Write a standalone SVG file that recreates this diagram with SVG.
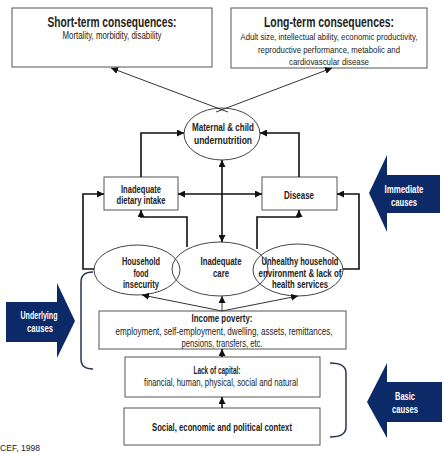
<svg xmlns="http://www.w3.org/2000/svg" width="444" height="453" viewBox="0 0 444 453">
<style>
.box{fill:#fff;stroke:#555;stroke-width:1}
.ell{fill:none;stroke:#444;stroke-width:1}
.t{font-family:"Liberation Sans Narrow","Liberation Sans",Arial,sans-serif;fill:#222;text-anchor:middle}
.b{font-weight:bold}
.w{fill:#fff;font-weight:bold}
.c{fill:none;stroke:#111;stroke-width:1.6}
.thin{fill:none;stroke:#333;stroke-width:1}
.blue{fill:#0c2a68}
.br{fill:none;stroke:#2a3550;stroke-width:1.5}
</style>
<defs>
<marker id="ah" viewBox="0 0 10 10" refX="10" refY="5" markerWidth="7" markerHeight="7" markerUnits="userSpaceOnUse" orient="auto-start-reverse"><path d="M0,0 L10,5 L0,10 z" fill="#111"/></marker>
</defs>
<rect width="444" height="453" fill="#fff"/>

<g id="short-term">
<rect class="box" x="12" y="8" width="200" height="59"/>
<text class="t b" x="112" y="27" font-size="14.5" textLength="129" lengthAdjust="spacingAndGlyphs">Short-term consequences:</text>
<text class="t" x="112" y="39" font-size="10" textLength="99" lengthAdjust="spacingAndGlyphs">Mortality,  morbidity, disability</text>
</g>
<g id="long-term">
<rect class="box" x="231" y="8" width="196" height="60"/>
<text class="t b" x="329" y="27" font-size="14.5" textLength="130" lengthAdjust="spacingAndGlyphs">Long-term consequences:</text>
<text class="t" x="329" y="40" font-size="9.5" textLength="177" lengthAdjust="spacingAndGlyphs">Adult size, intellectual ability, economic productivity,</text>
<text class="t" x="329" y="53" font-size="9.5" textLength="142" lengthAdjust="spacingAndGlyphs">reproductive performance, metabolic and</text>
<text class="t" x="329" y="65" font-size="9.5" textLength="80" lengthAdjust="spacingAndGlyphs">cardiovascular disease</text>
</g>

<g id="maternal">
<ellipse class="ell" cx="222" cy="134" rx="38" ry="26"/>
<text class="t b" x="223" y="131" font-size="11" textLength="62" lengthAdjust="spacingAndGlyphs">Maternal &amp; child</text>
<text class="t b" x="223" y="144" font-size="11" textLength="58" lengthAdjust="spacingAndGlyphs">undernutrition</text>
</g>
<g id="dietary">
<rect class="box" x="104" y="177" width="74" height="33"/>
<text class="t b" x="141" y="193" font-size="11" textLength="40" lengthAdjust="spacingAndGlyphs">Inadequate</text>
<text class="t b" x="141" y="204" font-size="11" textLength="49" lengthAdjust="spacingAndGlyphs">dietary intake</text>
</g>
<g id="disease">
<rect class="box" x="262" y="177" width="75" height="33"/>
<text class="t b" x="299" y="199" font-size="11" textLength="30" lengthAdjust="spacingAndGlyphs">Disease</text>
</g>
<g id="household-food">
<ellipse class="ell" cx="137" cy="270" rx="43" ry="25"/>
<text class="t b" x="141" y="265" font-size="11" textLength="38" lengthAdjust="spacingAndGlyphs">Household</text>
<text class="t b" x="141" y="277" font-size="11" textLength="15" lengthAdjust="spacingAndGlyphs">food</text>
<text class="t b" x="141" y="288" font-size="11" textLength="36" lengthAdjust="spacingAndGlyphs">insecurity</text>
</g>
<g id="care">
<ellipse class="ell" cx="220" cy="269" rx="48" ry="27"/>
<text class="t b" x="221" y="265" font-size="11" textLength="41" lengthAdjust="spacingAndGlyphs">Inadequate</text>
<text class="t b" x="221" y="277" font-size="11" textLength="16" lengthAdjust="spacingAndGlyphs">care</text>
</g>
<g id="unhealthy">
<ellipse class="ell" cx="298" cy="270" rx="45" ry="26"/>
<text class="t b" x="300" y="265" font-size="11" textLength="77" lengthAdjust="spacingAndGlyphs">Unhealthy household</text>
<text class="t b" x="300" y="277" font-size="11" textLength="83" lengthAdjust="spacingAndGlyphs">environment &amp;  lack of</text>
<text class="t b" x="300" y="288" font-size="11" textLength="56" lengthAdjust="spacingAndGlyphs">health services</text>
</g>
<g id="income">
<rect class="box" x="99" y="311" width="247" height="38"/>
<text class="t b" x="222" y="322" font-size="11" textLength="61" lengthAdjust="spacingAndGlyphs">Income poverty:</text>
<text class="t" x="224" y="335" font-size="10.5" textLength="217" lengthAdjust="spacingAndGlyphs">employment, self-employment, dwelling, assets, remittances,</text>
<text class="t" x="222" y="347" font-size="10.5" textLength="81" lengthAdjust="spacingAndGlyphs">pensions, transfers, etc.</text>
</g>
<g id="capital">
<rect class="box" x="125" y="357" width="195" height="40"/>
<text class="t b" x="217" y="374" font-size="11" textLength="47" lengthAdjust="spacingAndGlyphs">Lack of capital:</text>
<text class="t" x="221" y="386" font-size="10.5" textLength="154" lengthAdjust="spacingAndGlyphs">financial, human, physical, social and natural</text>
</g>
<g id="context">
<rect class="box" x="124" y="408" width="196" height="37"/>
<text class="t b" x="222" y="431" font-size="11" textLength="140" lengthAdjust="spacingAndGlyphs">Social, economic and political  context</text>
</g>

<g id="underlying">
<polygon class="blue" points="6,302 57,302 57,283 75,321 57,358 57,342 6,342"/>
<text class="t w" x="39" y="319" font-size="11" textLength="37" lengthAdjust="spacingAndGlyphs">Underlying</text>
<text class="t w" x="40" y="332" font-size="11" textLength="26" lengthAdjust="spacingAndGlyphs">causes</text>
</g>
<g id="immediate">
<polygon class="blue" points="440,175 387,175 387,155 369,193 387,232 387,213 440,213"/>
<text class="t w" x="404" y="193" font-size="11" textLength="39" lengthAdjust="spacingAndGlyphs">Immediate</text>
<text class="t w" x="404" y="206" font-size="11" textLength="26" lengthAdjust="spacingAndGlyphs">causes</text>
</g>
<g id="basic">
<polygon class="blue" points="442,382 387,382 387,363 367,402 387,438 387,422 442,422"/>
<text class="t w" x="405" y="400" font-size="11" textLength="20" lengthAdjust="spacingAndGlyphs">Basic</text>
<text class="t w" x="405" y="413" font-size="11" textLength="26" lengthAdjust="spacingAndGlyphs">causes</text>
</g>

<g id="brackets">
<path class="br" d="M93,272 Q81,272 81,282 L81,359 Q81,369 93,369"/>
<path class="br" d="M330,363 Q346,363 346,373 L346,427 Q346,437 330,437"/>
</g>

<g id="connectors">
<path class="thin" d="M228,112 L111,68" marker-end="url(#ah)"/>
<path class="thin" d="M216,112 L332,68" marker-end="url(#ah)"/>
<path class="c" d="M141,177 V133 H184" marker-end="url(#ah)"/>
<path class="c" d="M299,177 V133 H260" marker-end="url(#ah)"/>
<path class="c" d="M178,194 H262" marker-start="url(#ah)" marker-end="url(#ah)"/>
<path class="c" d="M222,160 V242" marker-start="url(#ah)" marker-end="url(#ah)"/>
<path class="c" d="M94,269 H83 V194 H104" marker-end="url(#ah)"/>
<path class="c" d="M343,269 H359 V194 H337" marker-end="url(#ah)"/>
<path class="c" d="M187,247 V217 H141 V210" marker-end="url(#ah)"/>
<path class="c" d="M257,249 V217 H299 V210" marker-end="url(#ah)"/>
<path class="thin" d="M222,311 L142,295" marker-end="url(#ah)"/>
<path class="thin" d="M222,311 V296" marker-end="url(#ah)"/>
<path class="thin" d="M222,311 L298,296" marker-end="url(#ah)"/>
<path class="c" d="M222,357 V349" marker-end="url(#ah)"/>
<path class="c" d="M222,408 V397" marker-end="url(#ah)"/>
</g>

<text class="t" x="0" y="451" font-size="9.5" style="text-anchor:start" textLength="40" lengthAdjust="spacingAndGlyphs">CEF, 1998</text>
</svg>
